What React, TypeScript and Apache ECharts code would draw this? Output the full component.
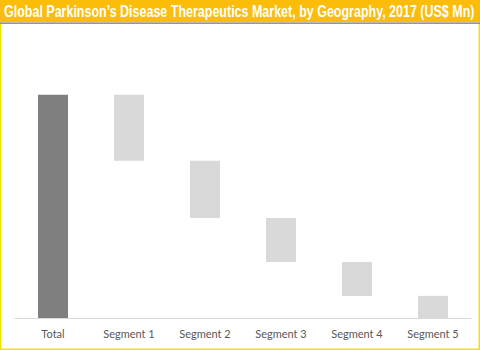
import React, { useEffect, useRef } from "react";
import * as echarts from "echarts";

const titleText = "Global Parkinson\u2019s Disease Therapeutics Market, by Geography, 2017 (US$ Mn)";
const categories = ["Total", "Segment 1", "Segment 2", "Segment 3", "Segment 4", "Segment 5"];
const totalValue = 100;
const segmentValues = [29.6, 25.6, 19.7, 15.2, 9.9];

export default function App() {
  const ref = useRef<HTMLDivElement>(null);
  useEffect(() => {
    if (!ref.current) return;
    const chart = echarts.init(ref.current, null, { renderer: "svg" });
    const visible: any[] = [];
    const base: number[] = [];
    visible.push({ value: totalValue, itemStyle: { color: "#7f7f7f" } });
    base.push(0);
    let remaining = totalValue;
    segmentValues.forEach((v) => {
      remaining -= v;
      base.push(Math.max(0, +remaining.toFixed(4)));
      visible.push({ value: v, itemStyle: { color: "#d9d9d9" } });
    });
    const font = "bold 16px 'Liberation Sans', Arial, sans-serif";
    const w = echarts.format.getTextRect
      ? (echarts.format as any).getTextRect(titleText, font).width
      : 597;
    const sx = Math.min(1, 471 / (w || 597));
    chart.setOption({
      animation: false,
      backgroundColor: "#ffffff",
      grid: { left: 15, right: 9, top: 50, bottom: 32 },
      xAxis: {
        type: "category",
        data: categories,
        axisLine: { show: true, lineStyle: { color: "#d9d9d9", width: 1 } },
        axisTick: { show: false },
        axisLabel: {
          color: "#595959",
          fontFamily: "Lato, 'Open Sans', sans-serif",
          fontSize: 11,
          margin: 10,
        },
      },
      yAxis: {
        type: "value",
        min: 0,
        max: 120,
        show: false,
        splitLine: { show: false },
      },
      graphic: [
        { type: "rect", shape: { x: 0, y: 0, width: 480, height: 350 }, style: { fill: "none", stroke: "#f5e400", lineWidth: 3 }, z: 10 },
        { type: "rect", shape: { x: 0, y: 0, width: 480, height: 22.5 }, style: { fill: "#fbbd08" }, z: 11 },
        { type: "rect", shape: { x: 0, y: 22.5, width: 480, height: 1.5 }, style: { fill: "#6a9fd4" }, z: 11 },
        {
          type: "text",
          x: 4,
          y: 11.5,
          scaleX: sx,
          z: 12,
          style: {
            text: titleText,
            fill: "#ffffff",
            font,
            verticalAlign: "middle",
          },
        },
      ],
      series: [
        {
          type: "bar",
          stack: "wf",
          data: base,
          barWidth: 30,
          itemStyle: { color: "transparent" },
          silent: true,
        },
        {
          type: "bar",
          stack: "wf",
          data: visible,
          barWidth: 30,
        },
      ],
    });
    return () => chart.dispose();
  }, []);
  return <div ref={ref} style={{ width: 480, height: 350, position: "absolute", left: 0, top: 0 }} />;
}
